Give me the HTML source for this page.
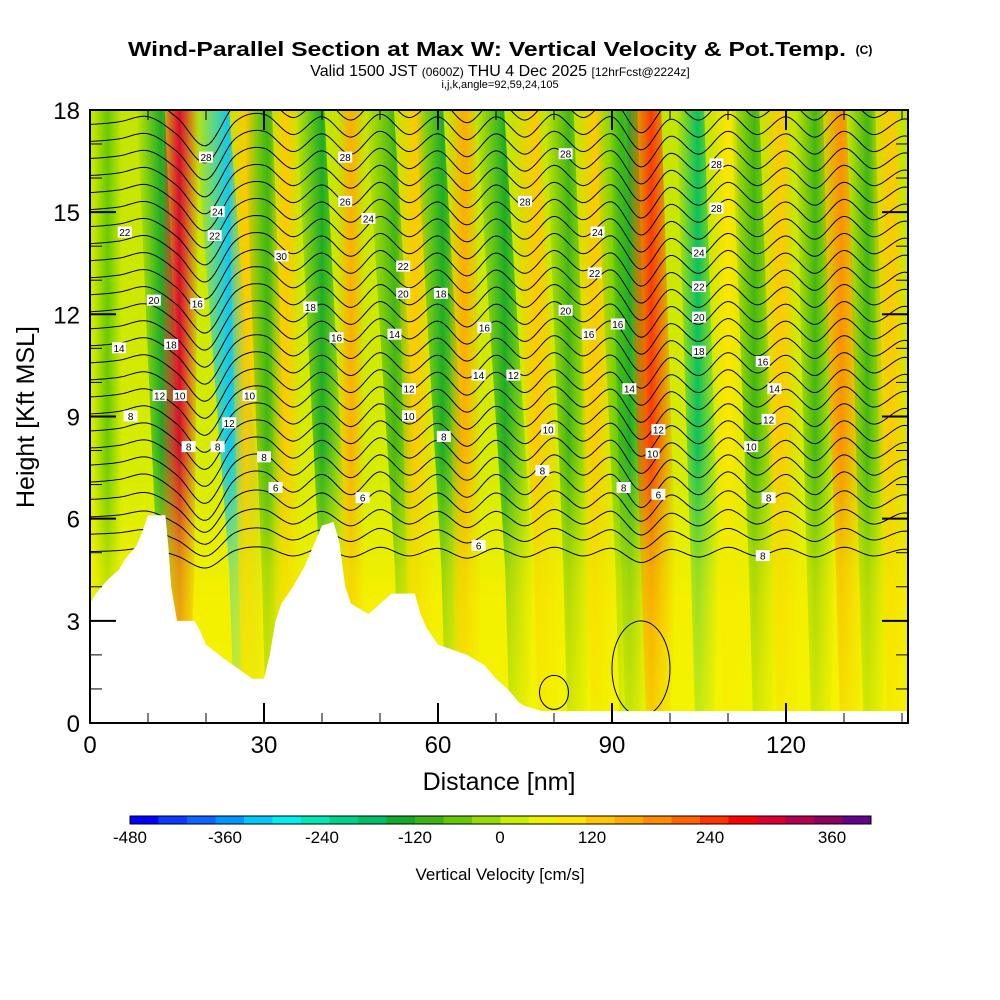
<!DOCTYPE html>
<html><head><meta charset="utf-8"><style>
body{margin:0;background:#fff;}
svg{display:block;font-family:"Liberation Sans",sans-serif;}
</style></head><body>
<svg id="chart" width="1000" height="1000" viewBox="0 0 1000 1000" xmlns="http://www.w3.org/2000/svg">
<rect width="1000" height="1000" fill="#fff"/>
<text x="487" y="56" text-anchor="middle" font-size="20" font-weight="bold" textLength="718" lengthAdjust="spacingAndGlyphs">Wind-Parallel Section at Max W: Vertical Velocity &amp; Pot.Temp.</text>
<text x="864" y="54" text-anchor="middle" font-size="12" font-weight="bold">(C)</text>
<text x="500" y="76" text-anchor="middle" font-size="16">Valid 1500 JST <tspan font-size="12">(0600Z)</tspan> THU 4 Dec 2025 <tspan font-size="12">[12hrFcst@2224z]</tspan></text>
<text x="500" y="88" text-anchor="middle" font-size="11">i,j,k,angle=92,59,24,105</text>
<defs>
<clipPath id="pc"><rect x="90" y="110" width="818" height="613"/></clipPath>
<linearGradient id="vg" gradientUnits="userSpaceOnUse" x1="0" y1="110" x2="0" y2="723">
<stop offset="0" stop-color="#fff"/><stop offset="0.55" stop-color="#fff"/><stop offset="0.75" stop-color="#666"/><stop offset="1" stop-color="#333"/>
</linearGradient>
<mask id="vm"><rect x="90" y="110" width="818" height="613" fill="url(#vg)"/></mask>
<linearGradient id="bgg" gradientUnits="userSpaceOnUse" x1="0" y1="110" x2="0" y2="723">
<stop offset="0" stop-color="#c4e400"/><stop offset="0.6" stop-color="#d8ec00"/><stop offset="0.8" stop-color="#f4f000"/><stop offset="1" stop-color="#f4f400"/>
</linearGradient>
</defs>
<g id="plot" clip-path="url(#pc)"></g>
<g id="axes"></g>
<g id="cbar"></g>
<text x="499" y="790" text-anchor="middle" font-size="25">Distance [nm]</text>
<text transform="translate(34,417) rotate(-90)" text-anchor="middle" font-size="25">Height [Kft MSL]</text>
<text x="500" y="880" text-anchor="middle" font-size="17">Vertical Velocity [cm/s]</text>
</svg>
<script>
// ---- data ----
const bandTopNm = [3, 10.5, 15.8, 21, 26, 29, 33.5, 38, 45, 50, 55, 58.5, 64, 69, 75, 81, 86, 89.5, 92, 95.5, 103.5, 109, 113, 118, 124, 128, 133, 137];
const bandBotNm = [3, 14, 15, 27, 28, 32, 34, 42, 45, 55, 57, 63, 65, 74, 79, 84, 88, 93, 94, 98, 106, 111, 116, 120, 126, 131, 135, 139];
const bandValue = [-60, -150, 330, -330, 120, -120, 100, -150, 150, -120, 120, -150, 150, -150, 120, -100, 120, -90, -150, 270, -180, 90, -120, 120, -120, 180, -120, 120];
const terrainNm = [0, 1, 3, 5, 6, 8, 9, 10, 13, 13.5, 14, 15, 18, 19, 20, 23, 28, 30, 31, 32, 33, 35, 37, 38, 40, 42, 43, 44, 45, 48, 50, 52, 56, 57, 58, 60, 65, 68, 70, 72, 73, 74, 75, 78, 141];
const terrainKft = [3.5, 3.8, 4.2, 4.5, 4.8, 5.2, 5.6, 6.1, 6.1, 5.2, 4, 3, 3, 2.7, 2.3, 1.9, 1.3, 1.3, 2.0, 3.0, 3.5, 4.0, 4.6, 5.0, 5.8, 5.9, 5.3, 4.0, 3.5, 3.2, 3.5, 3.8, 3.8, 3.2, 2.8, 2.3, 2.0, 1.7, 1.3, 1.0, 0.8, 0.6, 0.5, 0.35, 0.35];
const dispNm = [0,5,10,15,20,25,30,35,40,45,50,55,60,65,70,75,80,85,90,95,100,105,110,115,120,125,130,135,140];
const dispKft = [0.1,0.2,0.4,-0.3,-1.4,0.2,0.5,-0.3,0.4,-0.4,0.5,-0.3,0.4,-0.5,0.4,-0.4,0.5,-0.3,0.4,-0.9,0.3,-0.4,0.5,-0.3,0.4,-0.4,0.5,-0.3,0.3];
const contourLevels = [5.0,5.5,6.0,6.5,7.0,7.5,8.0,8.5,9.0,9.5,10.0,10.5,11.0,11.5,12.0,12.5,13.0,13.5,14.0,14.5,15.0,15.5,16.0,16.5,17.0,17.5,18.0];
const xTickLabels = [0, 30, 60, 90, 120];
const yTickLabels = [0, 3, 6, 9, 12, 15, 18];
const cbarColors = ["#0000ff","#0a3cff","#0f64ff","#0096ff","#00c8ff","#00f0f0","#00e6b4","#00d28c","#00be64","#14aa28","#3cb414","#64c800","#96dc00","#c8f000","#f0f000","#ffe600","#ffc800","#ffaa00","#ff8c00","#ff6400","#ff3200","#ff0000","#dc0032","#b40050","#8c0064","#64008c"];
const cbarLabels = ["-480","-360","-240","-120","0","120","240","360"];

// ---- scales ----
const X = n => 90 + n*5.8;
const Y = k => 723 - k*34.06;
const NS = "http://www.w3.org/2000/svg";
function mk(tag, attrs, parent){const e=document.createElementNS(NS,tag);for(const k in attrs)e.setAttribute(k,attrs[k]);parent.appendChild(e);return e;}
function colorFor(v){const i=Math.max(0,Math.min(cbarColors.length-1,Math.round((v+480)/37)));return cbarColors[i];}
const plot = document.getElementById('plot');
const defs = document.querySelector('defs');

const bg = mk('rect',{x:90,y:110,width:818,height:613,fill:'url(#bgg)'},plot);



const bandGroup = mk('g',{mask:'url(#vm)'},plot);


bandTopNm.forEach((t,i)=>{
  const b=bandBotNm[i], v=bandValue[i], c=colorFor(v);
  const w = Math.abs(v)>250?3.0:2.4;
  const g=mk('linearGradient',{id:'bg'+i,x1:'0',x2:'1',y1:'0',y2:'0'},defs);
  mk('stop',{offset:'0','stop-color':c,'stop-opacity':0},g);
  mk('stop',{offset:'0.5','stop-color':c,'stop-opacity':0.95},g);
  mk('stop',{offset:'1','stop-color':c,'stop-opacity':0},g);
  const p=mk('polygon',{points:`${X(t-w)},${Y(18)} ${X(t+w)},${Y(18)} ${X(b+w)},${Y(4.5)} ${X(b+w*0.7)},${Y(0)} ${X(b-w*0.7)},${Y(0)} ${X(b-w)},${Y(4.5)}`,fill:`url(#bg${i})`},bandGroup);
  
  
});

function dispAt(n){
  const step=dispNm[1]-dispNm[0];
  let i=Math.floor(n/step); i=Math.max(0,Math.min(dispNm.length-2,i));
  const t=(n-dispNm[i])/step;
  const p0=dispKft[Math.max(0,i-1)],p1=dispKft[i],p2=dispKft[i+1],p3=dispKft[Math.min(dispKft.length-1,i+2)];
  return 0.5*((2*p1)+(-p0+p2)*t+(2*p0-5*p1+4*p2-p3)*t*t+(-p0+3*p1-3*p2+p3)*t*t*t);
}
contourLevels.forEach(L=>{
  const f=Math.min(1,(L-3.5)/3.5);
  let d='';
  for(let n=0;n<=141;n+=0.5){
    const k=L+dispAt(n)*f*0.75;
    d+=(n===0?'M':'L')+X(n).toFixed(1)+','+Y(k).toFixed(1);
  }
  const p=mk('path',{d:d,fill:'none',stroke:'#000','stroke-width':1},plot);
  
  
});
[[80,0.9,2.5,0.5],[95,1.6,5,1.4]].forEach(e=>{
  const el=mk('ellipse',{cx:X(e[0]),cy:Y(e[1]),rx:e[2]*5.8,ry:e[3]*34,fill:'none',stroke:'#000','stroke-width':1},plot);
  
  
});

let tp=`${X(0)},${Y(0)} `+terrainNm.map((n,i)=>`${X(n)},${Y(terrainKft[i])}`).join(' ')+` ${X(141)},${Y(0)}`;
const terr=mk('polygon',{points:tp,fill:'#fff'},plot);



const lbl=[[20,16.6,'28'],[22,15.0,'24'],[21.5,14.3,'22'],[6,14.4,'22'],[11,12.4,'20'],[18.5,12.3,'16'],[14,11.1,'18'],[5,11.0,'14'],[12,9.6,'12'],[15.5,9.6,'10'],[7,9.0,'8'],[24,8.8,'12'],[17,8.1,'8'],[22,8.1,'8'],[27.5,9.6,'10'],[30,7.8,'8'],[32,6.9,'6'],[44,16.6,'28'],[44,15.3,'26'],[48,14.8,'24'],[33,13.7,'30'],[38,12.2,'18'],[42.5,11.3,'16'],[54,13.4,'22'],[54,12.6,'20'],[52.5,11.4,'14'],[55,9.8,'12'],[55,9.0,'10'],[47,6.6,'6'],[60.5,12.6,'18'],[61,8.4,'8'],[68,11.6,'16'],[67,10.2,'14'],[73,10.2,'12'],[75,15.3,'28'],[82,16.7,'28'],[82,12.1,'20'],[79,8.6,'10'],[78,7.4,'8'],[67,5.2,'6'],[87.5,14.4,'24'],[87,13.2,'22'],[86,11.4,'16'],[91,11.7,'16'],[93,9.8,'14'],[97,7.9,'10'],[98,8.6,'12'],[92,6.9,'8'],[98,6.7,'6'],[108,16.4,'28'],[108,15.1,'28'],[105,13.8,'24'],[105,12.8,'22'],[105,11.9,'20'],[105,10.9,'18'],[116,10.6,'16'],[118,9.8,'14'],[117,8.9,'12'],[114,8.1,'10'],[117,6.6,'8'],[116,4.9,'8']];
lbl.forEach(l=>{
  const r=mk('rect',{x:X(l[0])-7,y:Y(l[1])-6,width:14,height:11,fill:'#fff'},plot);
  
  
  const t=mk('text',{x:X(l[0]),y:Y(l[1])+3.5,'text-anchor':'middle','font-size':10},plot);
  t.textContent=l[2];
  
  
});

const ax=document.getElementById('axes');
const frame=mk('rect',{x:90,y:110,width:818,height:613,fill:'none',stroke:'#000','stroke-width':2},ax);


for(let n=10;n<=140;n+=10){
  const big=n%30===0;
  const l=mk('line',{x1:X(n),x2:X(n),y1:723,y2:723-(big?20:10),stroke:'#000','stroke-width':big?2:1},ax);
  
  
  const l2=mk('line',{x1:X(n),x2:X(n),y1:110,y2:110+(big?20:10),stroke:'#000','stroke-width':big?2:1},ax);
  
  
}
for(let k=1;k<18;k++){
  const big=k%3===0;
  [[90,1],[908,-1]].forEach(s=>{
    const l=mk('line',{x1:s[0],x2:s[0]+s[1]*(big?26:12),y1:Y(k),y2:Y(k),stroke:'#000','stroke-width':big?2:1},ax);
    
    
  });
}
xTickLabels.forEach(v=>{
  const t=mk('text',{x:X(v),y:753,'text-anchor':'middle','font-size':24},ax);
  t.textContent=v;
  
  
});
yTickLabels.forEach(v=>{
  const t=mk('text',{x:80,y:Y(v)+9,'text-anchor':'end','font-size':24},ax);
  t.textContent=v;
  
  
});

const cb=document.getElementById('cbar');
const cx0=130,cx1=871,sw=(cx1-cx0)/cbarColors.length;
cbarColors.forEach((c,i)=>{
  const r=mk('rect',{x:cx0+i*sw,y:816,width:sw+0.5,height:8,fill:c},cb);
  
  
});
const cbf=mk('rect',{x:cx0,y:816,width:cx1-cx0,height:8,fill:'none',stroke:'#000','stroke-width':1},cb);


const cbPos=[130,225,322,415,500,592,710,832];
cbarLabels.forEach((s,i)=>{
  const t=mk('text',{x:cbPos[i],y:843,'text-anchor':'middle','font-size':17},cb);
  t.textContent=s;
  
  
});
</script>
</body></html>
